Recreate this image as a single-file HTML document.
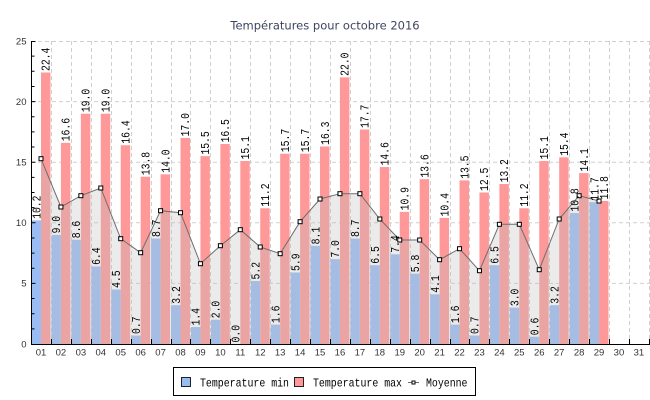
<!DOCTYPE html>
<html><head><meta charset="utf-8"><style>
html,body{margin:0;padding:0;background:#fff;}
svg{display:block;}
.vl{font-family:"Liberation Mono",monospace;font-size:10px;fill:#000;}
.ax{font-family:"Liberation Sans",sans-serif;font-size:9.5px;fill:#333;}
.lg{font-family:"Liberation Mono",monospace;font-size:12px;fill:#000;}
</style></head><body>
<svg width="650" height="400" viewBox="0 0 650 400" xmlns="http://www.w3.org/2000/svg">
<rect width="650" height="400" fill="#fff"/>
<text x="325" y="29.5" text-anchor="middle" font-family="DejaVu Sans, sans-serif" font-size="11.5" fill="#3e4562">Températures pour octobre 2016</text>
<!-- grid -->
<g stroke="#cfcfcf" stroke-width="1" stroke-dasharray="4,3" fill="none">
<path d="M31,41.5H650M31,101.6H650M31,162.2H650M31,222.8H650M31,283.4H650"/>
<path d="M51.5,41V344M71.5,41V344M91.5,41V344M111.5,41V344M131.5,41V344M151.5,41V344M171.5,41V344M190.5,41V344M210.5,41V344M230.5,41V344M250.5,41V344M270.5,41V344M290.5,41V344M310.5,41V344M330.5,41V344M350.5,41V344M370.5,41V344M390.5,41V344M410.5,41V344M430.5,41V344M450.5,41V344M469.5,41V344M489.5,41V344M509.5,41V344M529.5,41V344M549.5,41V344M569.5,41V344M589.5,41V344M609.5,41V344M629.5,41V344M649.5,41V344"/>
</g>
<!-- blue bars -->
<g fill="#9abcf4">
<rect x="31.53" y="220.38" width="9.47" height="123.62"/>
<rect x="51.46" y="234.92" width="9.47" height="109.08"/>
<rect x="71.39" y="239.77" width="9.47" height="104.23"/>
<rect x="91.32" y="266.43" width="9.47" height="77.57"/>
<rect x="111.25" y="289.46" width="9.47" height="54.54"/>
<rect x="131.18" y="335.52" width="9.47" height="8.48"/>
<rect x="151.11" y="238.56" width="9.47" height="105.44"/>
<rect x="171.04" y="305.22" width="9.47" height="38.78"/>
<rect x="190.97" y="327.03" width="9.47" height="16.97"/>
<rect x="210.90" y="319.76" width="9.47" height="24.24"/>
<rect x="250.76" y="280.98" width="9.47" height="63.02"/>
<rect x="270.69" y="324.61" width="9.47" height="19.39"/>
<rect x="290.62" y="272.49" width="9.47" height="71.51"/>
<rect x="310.55" y="245.83" width="9.47" height="98.17"/>
<rect x="330.48" y="259.16" width="9.47" height="84.84"/>
<rect x="350.41" y="238.56" width="9.47" height="105.44"/>
<rect x="370.34" y="265.22" width="9.47" height="78.78"/>
<rect x="390.27" y="254.31" width="9.47" height="89.69"/>
<rect x="410.20" y="273.70" width="9.47" height="70.30"/>
<rect x="430.13" y="294.31" width="9.47" height="49.69"/>
<rect x="450.06" y="324.61" width="9.47" height="19.39"/>
<rect x="469.99" y="335.52" width="9.47" height="8.48"/>
<rect x="489.92" y="265.22" width="9.47" height="78.78"/>
<rect x="509.85" y="307.64" width="9.47" height="36.36"/>
<rect x="529.78" y="336.73" width="9.47" height="7.27"/>
<rect x="549.71" y="305.22" width="9.47" height="38.78"/>
<rect x="569.64" y="213.10" width="9.47" height="130.90"/>
<rect x="589.57" y="202.20" width="9.47" height="141.80"/>
</g>
<!-- red bars -->
<g fill="#ff9999">
<rect x="41.00" y="72.51" width="9.47" height="271.49"/>
<rect x="60.93" y="142.81" width="9.47" height="201.19"/>
<rect x="80.86" y="113.72" width="9.47" height="230.28"/>
<rect x="100.79" y="113.72" width="9.47" height="230.28"/>
<rect x="120.72" y="145.23" width="9.47" height="198.77"/>
<rect x="140.65" y="176.74" width="9.47" height="167.26"/>
<rect x="160.58" y="174.32" width="9.47" height="169.68"/>
<rect x="180.51" y="137.96" width="9.47" height="206.04"/>
<rect x="200.44" y="156.14" width="9.47" height="187.86"/>
<rect x="220.37" y="144.02" width="9.47" height="199.98"/>
<rect x="240.30" y="160.99" width="9.47" height="183.01"/>
<rect x="260.23" y="208.26" width="9.47" height="135.74"/>
<rect x="280.16" y="153.72" width="9.47" height="190.28"/>
<rect x="300.09" y="153.72" width="9.47" height="190.28"/>
<rect x="320.02" y="146.44" width="9.47" height="197.56"/>
<rect x="339.95" y="77.36" width="9.47" height="266.64"/>
<rect x="359.88" y="129.48" width="9.47" height="214.52"/>
<rect x="379.81" y="167.05" width="9.47" height="176.95"/>
<rect x="399.74" y="211.89" width="9.47" height="132.11"/>
<rect x="419.67" y="179.17" width="9.47" height="164.83"/>
<rect x="439.60" y="217.95" width="9.47" height="126.05"/>
<rect x="459.53" y="180.38" width="9.47" height="163.62"/>
<rect x="479.46" y="192.50" width="9.47" height="151.50"/>
<rect x="499.39" y="184.02" width="9.47" height="159.98"/>
<rect x="519.32" y="208.26" width="9.47" height="135.74"/>
<rect x="539.25" y="160.99" width="9.47" height="183.01"/>
<rect x="559.18" y="157.35" width="9.47" height="186.65"/>
<rect x="579.11" y="173.11" width="9.47" height="170.89"/>
<rect x="599.04" y="200.98" width="9.47" height="143.02"/>
</g>
<!-- area fill under average -->
<polygon fill="rgb(191,191,191)" fill-opacity="0.31" points="41,158.7 60.93,207 80.86,195.7 100.79,188 120.72,238.7 140.65,252.7 160.58,210.7 180.51,212.7 200.44,263.7 220.37,245.7 240.30,229.7 260.23,247 280.16,253.7 300.09,221.7 320.02,199 339.95,193.7 359.88,193.7 379.81,219 399.74,240 419.67,240 439.60,259.7 459.53,248.7 479.46,270.7 499.39,224.3 519.32,224.3 539.25,269.7 559.18,219 579.11,195.7 599.04,201 599.04,344 41,344"/>
<polyline fill="none" stroke="#6e6e6e" stroke-width="1" points="41,158.7 60.93,207 80.86,195.7 100.79,188 120.72,238.7 140.65,252.7 160.58,210.7 180.51,212.7 200.44,263.7 220.37,245.7 240.30,229.7 260.23,247 280.16,253.7 300.09,221.7 320.02,199 339.95,193.7 359.88,193.7 379.81,219 399.74,240 419.67,240 439.60,259.7 459.53,248.7 479.46,270.7 499.39,224.3 519.32,224.3 539.25,269.7 559.18,219 579.11,195.7 599.04,201"/>
<!-- markers -->
<g fill="#fff" stroke="#000" stroke-width="1">
<rect x="39" y="156.7" width="4" height="4"/>
<rect x="58.93" y="205" width="4" height="4"/>
<rect x="78.86" y="193.7" width="4" height="4"/>
<rect x="98.79" y="186" width="4" height="4"/>
<rect x="118.72" y="236.7" width="4" height="4"/>
<rect x="138.65" y="250.7" width="4" height="4"/>
<rect x="158.58" y="208.7" width="4" height="4"/>
<rect x="178.51" y="210.7" width="4" height="4"/>
<rect x="198.44" y="261.7" width="4" height="4"/>
<rect x="218.37" y="243.7" width="4" height="4"/>
<rect x="238.30" y="227.7" width="4" height="4"/>
<rect x="258.23" y="245" width="4" height="4"/>
<rect x="278.16" y="251.7" width="4" height="4"/>
<rect x="298.09" y="219.7" width="4" height="4"/>
<rect x="318.02" y="197" width="4" height="4"/>
<rect x="337.95" y="191.7" width="4" height="4"/>
<rect x="357.88" y="191.7" width="4" height="4"/>
<rect x="377.81" y="217" width="4" height="4"/>
<rect x="397.74" y="238" width="4" height="4"/>
<rect x="417.67" y="238" width="4" height="4"/>
<rect x="437.60" y="257.7" width="4" height="4"/>
<rect x="457.53" y="246.7" width="4" height="4"/>
<rect x="477.46" y="268.7" width="4" height="4"/>
<rect x="497.39" y="222.3" width="4" height="4"/>
<rect x="517.32" y="222.3" width="4" height="4"/>
<rect x="537.25" y="267.7" width="4" height="4"/>
<rect x="557.18" y="217" width="4" height="4"/>
<rect x="577.11" y="193.7" width="4" height="4"/>
<rect x="597.04" y="199" width="4" height="4"/>
</g>
<!-- axes -->
<g stroke="#000" stroke-width="1" fill="none">
<path d="M31.5,41V344.5M31,344.5H650"/>
<path d="M31.5,41.5h4M31.5,101.6h4M31.5,162.2h4M31.5,222.8h4M31.5,283.4h4"/>
<path d="M31.5,328.85h3M31.5,313.7h3M31.5,298.55h3M31.5,268.25h3M31.5,253.1h3M31.5,237.95h3M31.5,207.65h3M31.5,192.5h3M31.5,177.35h3M31.5,147.05h3M31.5,131.9h3M31.5,116.75h3M31.5,86.45h3M31.5,71.3h3M31.5,56.15h3"/>
<path d="M51.5,339V344M71.5,339V344M91.5,339V344M111.5,339V344M131.5,339V344M151.5,339V344M171.5,339V344M190.5,339V344M210.5,339V344M230.5,339V344M250.5,339V344M270.5,339V344M290.5,339V344M310.5,339V344M330.5,339V344M350.5,339V344M370.5,339V344M390.5,339V344M410.5,339V344M430.5,339V344M450.5,339V344M469.5,339V344M489.5,339V344M509.5,339V344M529.5,339V344M549.5,339V344M569.5,339V344M589.5,339V344M609.5,339V344M629.5,339V344M649.5,339V344"/>
</g>
<!-- y labels -->
<g class="ax" text-anchor="end">
<text x="26.5" y="347.3">0</text>
<text x="26.5" y="286.7">5</text>
<text x="26.5" y="226.1">10</text>
<text x="26.5" y="165.5">15</text>
<text x="26.5" y="104.9">20</text>
<text x="26.5" y="44.3">25</text>
</g>
<!-- x labels -->
<g class="ax" text-anchor="middle">
<text x="41" y="355.5">01</text><text x="60.93" y="355.5">02</text><text x="80.86" y="355.5">03</text><text x="100.79" y="355.5">04</text><text x="120.72" y="355.5">05</text><text x="140.65" y="355.5">06</text><text x="160.58" y="355.5">07</text><text x="180.51" y="355.5">08</text><text x="200.44" y="355.5">09</text><text x="220.37" y="355.5">10</text><text x="240.30" y="355.5">11</text><text x="260.23" y="355.5">12</text><text x="280.16" y="355.5">13</text><text x="300.09" y="355.5">14</text><text x="320.02" y="355.5">15</text><text x="339.95" y="355.5">16</text><text x="359.88" y="355.5">17</text><text x="379.81" y="355.5">18</text><text x="399.74" y="355.5">19</text><text x="419.67" y="355.5">20</text><text x="439.60" y="355.5">21</text><text x="459.53" y="355.5">22</text><text x="479.46" y="355.5">23</text><text x="499.39" y="355.5">24</text><text x="519.32" y="355.5">25</text><text x="539.25" y="355.5">26</text><text x="559.18" y="355.5">27</text><text x="579.11" y="355.5">28</text><text x="599.04" y="355.5">29</text><text x="618.97" y="355.5">30</text><text x="638.90" y="355.5">31</text>
</g>
<!-- value labels (min) -->
<g class="vl">
<text transform="translate(40.27,218.88) rotate(-90) scale(0.975,1.22)">10.2</text>
<text transform="translate(60.20,233.42) rotate(-90) scale(0.975,1.22)">9.0</text>
<text transform="translate(80.13,238.27) rotate(-90) scale(0.975,1.22)">8.6</text>
<text transform="translate(100.06,264.93) rotate(-90) scale(0.975,1.22)">6.4</text>
<text transform="translate(119.99,287.96) rotate(-90) scale(0.975,1.22)">4.5</text>
<text transform="translate(139.92,334.02) rotate(-90) scale(0.975,1.22)">0.7</text>
<text transform="translate(159.85,237.06) rotate(-90) scale(0.975,1.22)">8.7</text>
<text transform="translate(179.78,303.72) rotate(-90) scale(0.975,1.22)">3.2</text>
<text transform="translate(199.71,325.53) rotate(-90) scale(0.975,1.22)">1.4</text>
<text transform="translate(219.64,318.26) rotate(-90) scale(0.975,1.22)">2.0</text>
<text transform="translate(239.57,342.5) rotate(-90) scale(0.975,1.22)">0.0</text>
<text transform="translate(259.50,279.48) rotate(-90) scale(0.975,1.22)">5.2</text>
<text transform="translate(279.43,323.11) rotate(-90) scale(0.975,1.22)">1.6</text>
<text transform="translate(299.36,270.99) rotate(-90) scale(0.975,1.22)">5.9</text>
<text transform="translate(319.29,244.33) rotate(-90) scale(0.975,1.22)">8.1</text>
<text transform="translate(339.22,257.66) rotate(-90) scale(0.975,1.22)">7.0</text>
<text transform="translate(359.15,237.06) rotate(-90) scale(0.975,1.22)">8.7</text>
<text transform="translate(379.08,263.72) rotate(-90) scale(0.975,1.22)">6.5</text>
<text transform="translate(399.01,252.81) rotate(-90) scale(0.975,1.22)">7.4</text>
<text transform="translate(418.94,272.20) rotate(-90) scale(0.975,1.22)">5.8</text>
<text transform="translate(438.87,292.81) rotate(-90) scale(0.975,1.22)">4.1</text>
<text transform="translate(458.80,323.11) rotate(-90) scale(0.975,1.22)">1.6</text>
<text transform="translate(478.73,334.02) rotate(-90) scale(0.975,1.22)">0.7</text>
<text transform="translate(498.66,263.72) rotate(-90) scale(0.975,1.22)">6.5</text>
<text transform="translate(518.59,306.14) rotate(-90) scale(0.975,1.22)">3.0</text>
<text transform="translate(538.52,335.23) rotate(-90) scale(0.975,1.22)">0.6</text>
<text transform="translate(558.45,303.72) rotate(-90) scale(0.975,1.22)">3.2</text>
<text transform="translate(578.38,211.60) rotate(-90) scale(0.975,1.22)">10.8</text>
<text transform="translate(598.31,200.70) rotate(-90) scale(0.975,1.22)">11.7</text>
</g>
<!-- value labels (max) -->
<g class="vl">
<text transform="translate(49.73,71.01) rotate(-90) scale(0.975,1.22)">22.4</text>
<text transform="translate(69.66,141.31) rotate(-90) scale(0.975,1.22)">16.6</text>
<text transform="translate(89.59,112.22) rotate(-90) scale(0.975,1.22)">19.0</text>
<text transform="translate(109.52,112.22) rotate(-90) scale(0.975,1.22)">19.0</text>
<text transform="translate(129.45,143.73) rotate(-90) scale(0.975,1.22)">16.4</text>
<text transform="translate(149.38,175.24) rotate(-90) scale(0.975,1.22)">13.8</text>
<text transform="translate(169.31,172.82) rotate(-90) scale(0.975,1.22)">14.0</text>
<text transform="translate(189.24,136.46) rotate(-90) scale(0.975,1.22)">17.0</text>
<text transform="translate(209.17,154.64) rotate(-90) scale(0.975,1.22)">15.5</text>
<text transform="translate(229.10,142.52) rotate(-90) scale(0.975,1.22)">16.5</text>
<text transform="translate(249.03,159.49) rotate(-90) scale(0.975,1.22)">15.1</text>
<text transform="translate(268.96,206.76) rotate(-90) scale(0.975,1.22)">11.2</text>
<text transform="translate(288.89,152.22) rotate(-90) scale(0.975,1.22)">15.7</text>
<text transform="translate(308.82,152.22) rotate(-90) scale(0.975,1.22)">15.7</text>
<text transform="translate(328.75,144.94) rotate(-90) scale(0.975,1.22)">16.3</text>
<text transform="translate(348.68,75.86) rotate(-90) scale(0.975,1.22)">22.0</text>
<text transform="translate(368.61,127.98) rotate(-90) scale(0.975,1.22)">17.7</text>
<text transform="translate(388.54,165.55) rotate(-90) scale(0.975,1.22)">14.6</text>
<text transform="translate(408.47,210.39) rotate(-90) scale(0.975,1.22)">10.9</text>
<text transform="translate(428.40,177.67) rotate(-90) scale(0.975,1.22)">13.6</text>
<text transform="translate(448.33,216.45) rotate(-90) scale(0.975,1.22)">10.4</text>
<text transform="translate(468.26,178.88) rotate(-90) scale(0.975,1.22)">13.5</text>
<text transform="translate(488.19,191.00) rotate(-90) scale(0.975,1.22)">12.5</text>
<text transform="translate(508.12,182.52) rotate(-90) scale(0.975,1.22)">13.2</text>
<text transform="translate(528.05,206.76) rotate(-90) scale(0.975,1.22)">11.2</text>
<text transform="translate(547.98,159.49) rotate(-90) scale(0.975,1.22)">15.1</text>
<text transform="translate(567.91,155.85) rotate(-90) scale(0.975,1.22)">15.4</text>
<text transform="translate(587.84,171.61) rotate(-90) scale(0.975,1.22)">14.1</text>
<text transform="translate(607.77,199.48) rotate(-90) scale(0.975,1.22)">11.8</text>
</g>
<!-- legend -->
<rect x="173.5" y="367.5" width="302" height="28" fill="#fff" stroke="#000" stroke-width="1"/>
<rect x="181.5" y="377.5" width="9" height="9" fill="#9abcf4" stroke="#222" stroke-width="1"/>
<text class="lg" x="200" y="386.5" textLength="89" lengthAdjust="spacingAndGlyphs">Temperature min</text>
<rect x="294.5" y="377.5" width="9" height="9" fill="#ff9999" stroke="#222" stroke-width="1"/>
<text class="lg" x="313" y="386.5" textLength="89" lengthAdjust="spacingAndGlyphs">Temperature max</text>
<path d="M408,382.5H419" stroke="#6e6e6e" stroke-width="1"/>
<rect x="412" y="381" width="3" height="3" fill="#fff" stroke="#000" stroke-width="1"/>
<text class="lg" x="426" y="386.5" textLength="41.5" lengthAdjust="spacingAndGlyphs">Moyenne</text>
</svg>
</body></html>
